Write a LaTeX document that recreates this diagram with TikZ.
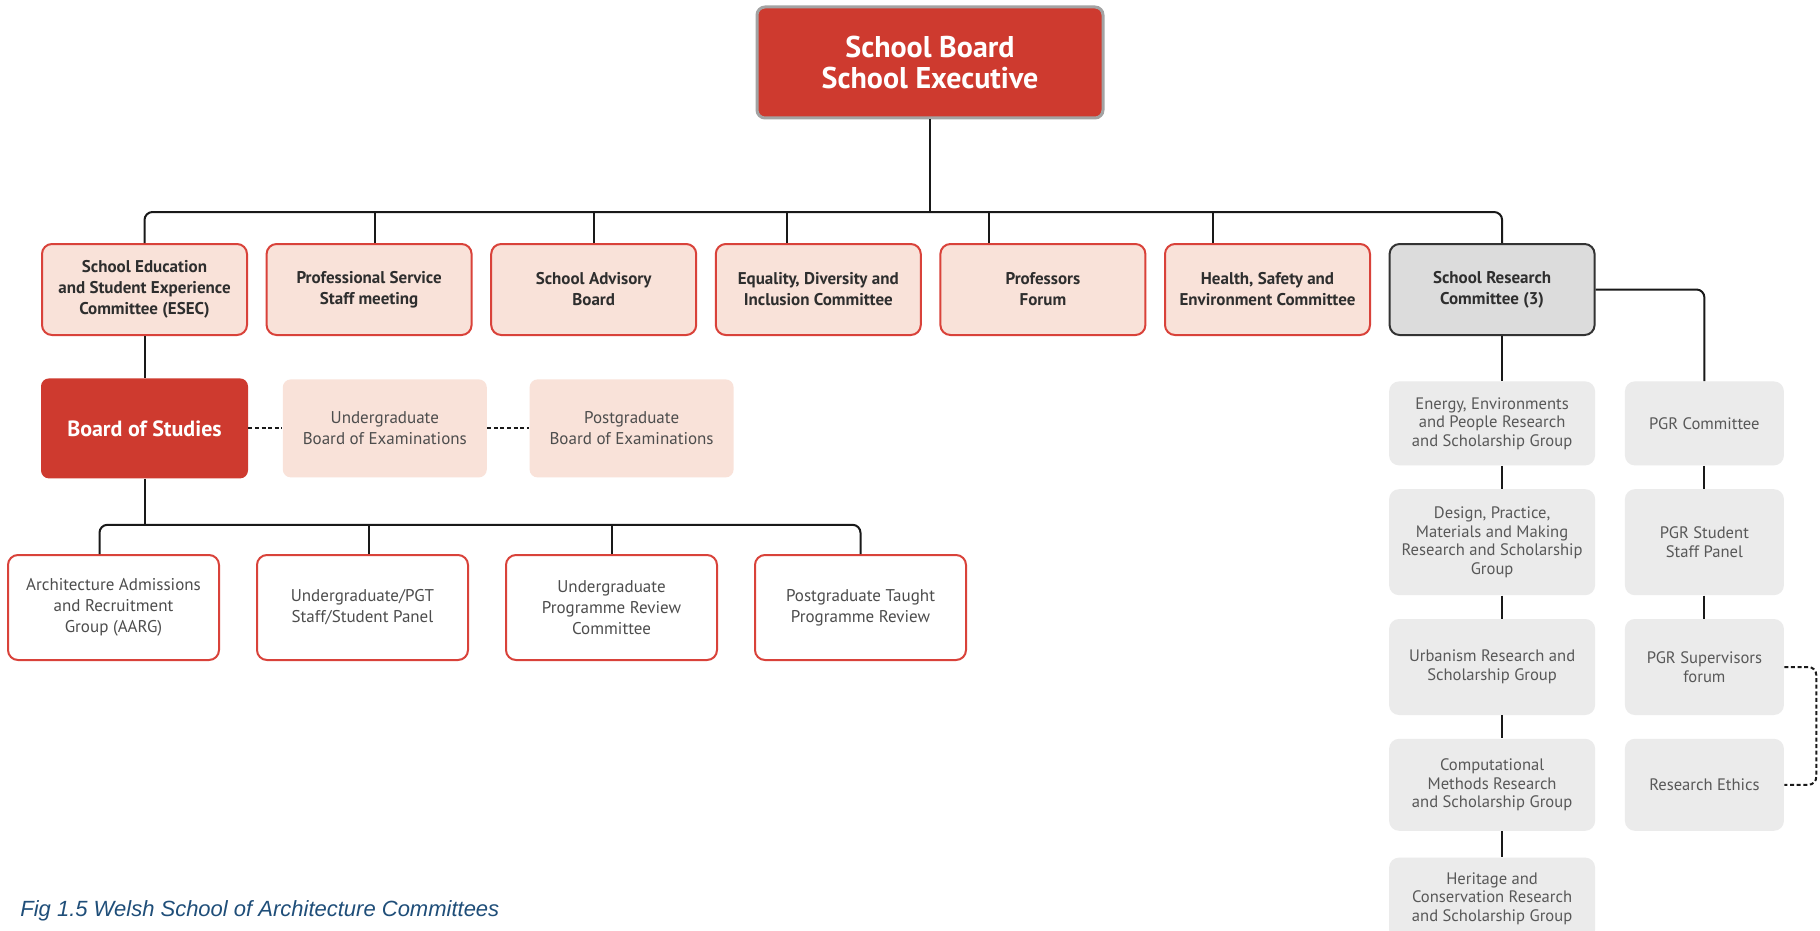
\documentclass[tikz,border=0pt]{standalone}
\usepackage{fontspec}
\setmainfont{PT Sans}
\newfontfamily\capfont{Liberation Sans}
\usetikzlibrary{positioning,calc}
\definecolor{wsared}{HTML}{CE3A2F}
\definecolor{wsaedge}{HTML}{D9423A}
\definecolor{wsapeach}{HTML}{F9E2D9}
\definecolor{wsagrey}{HTML}{EBEBEB}
\definecolor{wsaresearch}{HTML}{DCDCDC}
\definecolor{wsaframe}{HTML}{A3A3A3}
\definecolor{wsatext}{HTML}{2E2E2E}
\definecolor{wsacaption}{HTML}{1F4E79}

\begin{document}
\begin{tikzpicture}[x=0.5pt, y=-0.5pt,
    node distance=8.8pt,
    every node/.style={align=center, inner sep=2pt},
    board/.style={draw=wsaframe, line width=1.5pt, fill=wsared, rounded corners=4pt,
                  minimum width=173pt, minimum height=55.5pt, text=white,
                  font=\fontsize{15}{15.5}\selectfont\bfseries},
    committee/.style={draw=wsaedge, line width=1pt, fill=wsapeach, rounded corners=5pt,
                      minimum width=102.5pt, minimum height=45.5pt, text=wsatext,
                      font=\fontsize{8.5}{10.5}\selectfont\bfseries},
    research/.style={committee, draw=black!80, fill=wsaresearch},
    studies/.style={fill=wsared, rounded corners=4pt, minimum width=103.5pt, minimum height=50pt,
                    text=white, font=\fontsize{11}{12}\selectfont\bfseries},
    exam/.style={fill=wsapeach, rounded corners=4pt, minimum width=102pt, minimum height=49pt,
                 text=wsatext!85, font=\fontsize{8.5}{10.5}\selectfont},
    panel/.style={draw=wsaedge, line width=1pt, fill=white, rounded corners=5pt,
                  minimum width=105.5pt, minimum height=52.5pt, text=wsatext!85,
                  font=\fontsize{8.5}{10.5}\selectfont},
    group/.style={fill=wsagrey, rounded corners=5pt, minimum width=103pt,
                  text=wsatext!80, font=\fontsize{8.3}{9.3}\selectfont},
    pgr/.style={group, minimum width=79.5pt},
    conn/.style={draw=black!90, line width=1pt},
    bus/.style={conn, rounded corners=4pt},
    link/.style={conn, dash pattern=on 2pt off 1.3pt}
]
    \fill[white] (0,0) rectangle (1820,931);
    \useasboundingbox (0,0) rectangle (1820,931);

    \node[board] (top) at (930,62.5) {School Board\\School Executive};

    \node[committee] (esec) at (144.5,289.5) {School Education\\and Student Experience\\Committee (ESEC)};
    \node[committee, right=of esec] (staff) {Professional Service\\Staff meeting};
    \node[committee, right=of staff] (advisory) {School Advisory\\Board};
    \node[committee, right=of advisory] (edi) {Equality, Diversity and\\Inclusion Committee};
    \node[committee, right=of edi] (profs) {Professors\\Forum};
    \node[committee, right=of profs] (hse) {Health, Safety and\\Environment Committee};
    \node[research, right=of hse] (src) {School Research\\Committee (3)};

    \node[studies, below=21pt of esec] (bos) {Board of Studies};
    \node[exam, right=17pt of bos] (ugexam) {Undergraduate\\Board of Examinations};
    \node[exam, right=21pt of ugexam] (pgexam) {Postgraduate\\Board of Examinations};

    \node[panel] (aarg) at (113.5,607.5) {Architecture Admissions\\and Recruitment\\Group (AARG)};
    \node[panel, right=18pt of aarg] (sspanel) {Undergraduate/PGT\\Staff/Student Panel};
    \node[panel, right=18pt of sspanel] (ugreview) {Undergraduate\\Programme Review\\Committee};
    \node[panel, right=18pt of ugreview] (pgtreview) {Postgraduate Taught\\Programme Review};

    \node[group, minimum height=42pt, below=22.5pt of src] (energy)
        {Energy, Environments\\and People Research\\and Scholarship Group};
    \node[group, minimum height=53pt, below=11.5pt of energy] (design)
        {Design, Practice,\\Materials and Making\\Research and Scholarship\\Group};
    \node[group, minimum height=48pt, below=11.5pt of design] (urban)
        {Urbanism Research and\\Scholarship Group};
    \node[group, minimum height=46pt, below=11.5pt of urban] (comp)
        {Computational\\Methods Research\\and Scholarship Group};
    \node[group, minimum height=41pt, below=13pt of comp] (heritage)
        {Heritage and\\Conservation Research\\and Scholarship Group};

    \node[pgr, minimum height=42pt, right=14.5pt of energy] (pgrcom) {PGR Committee};
    \node[pgr, minimum height=53pt, right=14.5pt of design] (pgrstaff) {PGR Student\\Staff Panel};
    \node[pgr, minimum height=48pt, right=14.5pt of urban] (pgrsup) {PGR Supervisors\\forum};
    \node[pgr, minimum height=46pt, right=14.5pt of comp] (ethics) {Research Ethics};

    \node[anchor=west, inner sep=0pt, text=wsacaption,
          font=\capfont\itshape\fontsize{11}{13}\selectfont] (caption) at (20,911)
        {Fig 1.5 Welsh School of Architecture Committees};

    \coordinate (topbus) at (930,212);
    \draw[conn] (top) -- (topbus);
    \draw[bus] (esec.north) |- (topbus) -| ([xshift=5pt]src.north);
    \foreach \n/\dx in {staff/3pt, advisory/0pt, edi/-15.5pt, profs/-27pt, hse/-27.5pt}
        \draw[conn] ([xshift=\dx]\n.north) -- ([xshift=\dx]\n.north |- topbus);

    \draw[conn] (esec) -- (bos);
    \draw[link] (bos) -- (ugexam);
    \draw[link] (ugexam) -- (pgexam);

    \coordinate (lowbus) at ($(bos.south)+(0,46)$);
    \draw[conn] (bos) -- (lowbus);
    \draw[bus] ([xshift=-7pt]aarg.north) |- (lowbus) -| (pgtreview.north);
    \draw[conn] ([xshift=3pt]sspanel.north) -- ([xshift=3pt]sspanel.north |- lowbus);
    \draw[conn] (ugreview.north) -- (ugreview.north |- lowbus);

    \foreach \a/\b in {src/energy, energy/design, design/urban, urban/comp, comp/heritage}
        \draw[conn] ([xshift=5pt]\a.south) -- ([xshift=5pt]\b.north);
    \draw[bus] (src.east) -| (pgrcom.north);
    \draw[conn] (pgrcom) -- (pgrstaff);
    \draw[conn] (pgrstaff) -- (pgrsup);
    \draw[link, rounded corners=4pt] (pgrsup.east) -- ++(16pt,0) |- (ethics.east);
\end{tikzpicture}
\end{document}
